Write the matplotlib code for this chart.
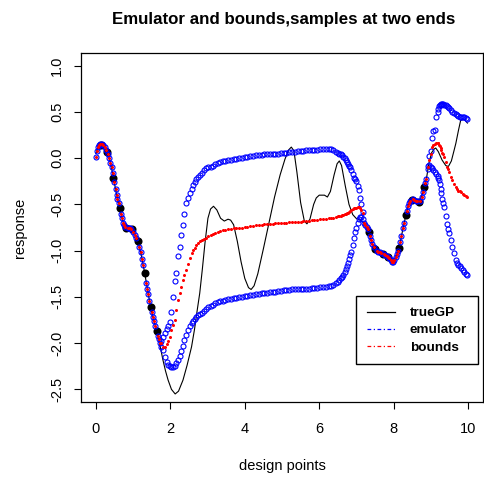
import matplotlib
matplotlib.use("Agg")
import matplotlib.pyplot as plt
from matplotlib.lines import Line2D

plt.rcParams['font.family'] = ['Liberation Sans', 'DejaVu Sans']

# true GP path
true_x = [0.00, 0.05, 0.10, 0.15, 0.22, 0.31, 0.40, 0.47, 0.55, 0.64, 0.72, 0.80, 0.90, 0.98,
          1.05, 1.13, 1.22, 1.31, 1.40, 1.47, 1.55, 1.64, 1.72, 1.80, 1.87, 1.94, 2.03, 2.13,
          2.22, 2.34, 2.45, 2.57, 2.65, 2.72, 2.79, 2.86, 2.93, 3.01, 3.08, 3.16, 3.25, 3.35,
          3.45, 3.55, 3.62, 3.70, 3.80, 3.90, 4.00, 4.10, 4.17, 4.25, 4.35, 4.50, 4.65, 4.80,
          4.95, 5.08, 5.18, 5.25, 5.32, 5.40, 5.50, 5.60, 5.67, 5.75, 5.85, 5.92, 6.00, 6.08,
          6.14, 6.22, 6.30, 6.40, 6.48, 6.54, 6.60, 6.70, 6.80, 6.90, 6.99, 7.10, 7.20, 7.33,
          7.42, 7.51, 7.60, 7.70, 7.80, 7.90, 7.97, 8.05, 8.15, 8.24, 8.33, 8.40, 8.49, 8.58,
          8.69, 8.76, 8.82, 8.88, 8.95, 9.02, 9.09, 9.13, 9.20, 9.30, 9.40, 9.47, 9.55, 9.62,
          9.67, 9.74, 9.80, 9.90, 9.98]
true_y = [0.05, 0.11, 0.14, 0.15, 0.14, 0.07, -0.06, -0.21, -0.38, -0.54, -0.68, -0.74, -0.76, -0.78,
          -0.82, -0.90, -1.05, -1.24, -1.45, -1.61, -1.75, -1.87, -2.02, -2.18, -2.30, -2.40, -2.50, -2.55,
          -2.52, -2.40, -2.24, -2.04, -1.85, -1.65, -1.46, -1.20, -0.92, -0.65, -0.55, -0.52, -0.56, -0.65,
          -0.68, -0.66, -0.67, -0.72, -0.90, -1.12, -1.30, -1.40, -1.42, -1.38, -1.25, -0.98, -0.70, -0.42,
          -0.18, -0.01, 0.09, 0.12, 0.08, -0.15, -0.48, -0.68, -0.71, -0.66, -0.50, -0.43, -0.40, -0.40,
          -0.40, -0.42, -0.36, -0.18, -0.06, -0.03, -0.08, -0.30, -0.50, -0.61, -0.65, -0.67, -0.70, -0.80,
          -0.92, -0.99, -1.02, -1.04, -1.06, -1.09, -1.12, -1.08, -0.97, -0.78, -0.61, -0.50, -0.45, -0.45,
          -0.47, -0.40, -0.31, -0.22, -0.05, 0.06, 0.10, 0.11, 0.07, -0.02, -0.08, -0.09, -0.03, 0.08,
          0.16, 0.30, 0.41, 0.42, 0.38]

# design points at the two ends
design_x = [0.15, 0.31, 0.47, 0.64, 0.82, 0.98, 1.13, 1.31, 1.47, 1.64,
            7.33, 7.51, 7.70, 7.86, 8.15, 8.33, 8.49, 8.69, 8.82]
design_y = [0.14, 0.07, -0.21, -0.54, -0.75, -0.77, -0.90, -1.24, -1.61, -1.87,
            -0.80, -0.98, -1.04, -1.07, -0.97, -0.61, -0.45, -0.47, -0.31]

# emulator where it interpolates the samples (bounds collapse onto the mean)
fit_x = [0.00, 0.03, 0.06, 0.09, 0.12, 0.16, 0.20, 0.24, 0.28, 0.33, 0.36, 0.39, 0.42, 0.45,
         0.50, 0.53, 0.56, 0.58, 0.61, 0.67, 0.70, 0.73, 0.76, 0.79, 0.85, 0.88, 0.92, 0.95,
         1.01, 1.05, 1.08, 1.17, 1.20, 1.24, 1.27, 1.35, 1.38, 1.41, 1.44, 1.50, 1.53, 1.56,
         1.60, 1.67, 1.70, 1.73,
         7.20, 7.24, 7.27, 7.30, 7.36, 7.39, 7.43, 7.46, 7.55, 7.58, 7.63, 7.66, 7.73, 7.76,
         7.82, 7.85, 7.88, 7.92, 7.95, 7.99, 8.02, 8.06, 8.09, 8.12, 8.18, 8.21, 8.25, 8.28,
         8.36, 8.39, 8.42, 8.45, 8.52, 8.55, 8.60, 8.63, 8.72, 8.75, 8.79, 8.85, 8.88]
fit_y = [0.01, 0.08, 0.12, 0.14, 0.15, 0.15, 0.14, 0.12, 0.09, 0.05, 0.00, -0.05, -0.10, -0.16,
         -0.26, -0.33, -0.40, -0.44, -0.49, -0.60, -0.65, -0.70, -0.72, -0.74, -0.75, -0.76, -0.76, -0.77,
         -0.80, -0.83, -0.86, -0.96, -1.02, -1.09, -1.15, -1.35, -1.42, -1.47, -1.54, -1.66, -1.72, -1.76,
         -1.82, -1.92, -1.96, -2.00,
         -0.70, -0.72, -0.74, -0.77, -0.84, -0.88, -0.93, -0.96, -1.00, -1.01, -1.02, -1.03, -1.04, -1.05,
         -1.06, -1.07, -1.08, -1.10, -1.12, -1.12, -1.10, -1.07, -1.04, -1.00, -0.91, -0.84, -0.76, -0.70,
         -0.57, -0.52, -0.48, -0.46, -0.44, -0.45, -0.46, -0.46, -0.46, -0.42, -0.37, -0.27, -0.22]

# emulator away from the samples: upper, mean, lower
gap_x = [1.76, 1.80, 1.85, 1.90, 1.94, 1.98, 2.03, 2.07, 2.12, 2.16, 2.21, 2.25, 2.30, 2.34,
         2.38, 2.43, 2.47, 2.52, 2.57, 2.61, 2.65, 2.70, 2.74, 2.79, 2.84, 2.90, 2.96, 3.02,
         3.08, 3.14, 3.20, 3.27, 3.34, 3.41, 3.48, 3.55, 3.62, 3.70, 3.77, 3.85, 3.92, 4.00,
         4.07, 4.15, 4.22, 4.30, 4.37, 4.45, 4.52, 4.60, 4.67, 4.75, 4.82, 4.90, 4.97, 5.05,
         5.12, 5.20, 5.27, 5.35, 5.42, 5.50, 5.57, 5.65, 5.72, 5.80, 5.87, 5.95, 6.02, 6.10,
         6.17, 6.25, 6.31, 6.38, 6.45, 6.50, 6.54, 6.58, 6.61, 6.65, 6.68, 6.71, 6.74, 6.77,
         6.80, 6.83, 6.86, 6.90, 6.94, 6.97, 6.99, 7.03, 7.06, 7.10, 7.13, 7.17,
         8.92, 8.95, 8.99, 9.03, 9.06, 9.10, 9.14, 9.18, 9.20, 9.22, 9.24, 9.26, 9.28, 9.31,
         9.33, 9.36, 9.40, 9.44, 9.47, 9.49, 9.53, 9.58, 9.62, 9.67, 9.70, 9.74, 9.77, 9.80,
         9.85, 9.89, 9.94, 9.98]
gap_upper = [-1.98, -1.93, -1.89, -1.85, -1.81, -1.77, -1.66, -1.50, -1.33, -1.24, -1.06, -0.96, -0.83, -0.72,
             -0.60, -0.49, -0.43, -0.38, -0.33, -0.29, -0.26, -0.23, -0.20, -0.18, -0.16, -0.13, -0.11, -0.10,
             -0.09, -0.08, -0.06, -0.05, -0.04, -0.03, -0.03, -0.02, -0.02, -0.01, -0.01, 0.00, 0.00, 0.01,
             0.01, 0.02, 0.02, 0.03, 0.03, 0.03, 0.04, 0.04, 0.04, 0.05, 0.05, 0.05, 0.06, 0.06,
             0.06, 0.07, 0.07, 0.07, 0.08, 0.08, 0.08, 0.09, 0.09, 0.09, 0.09, 0.09, 0.10, 0.10,
             0.10, 0.10, 0.10, 0.09, 0.07, 0.06, 0.05, 0.04, 0.03, 0.01, 0.00, -0.02, -0.04, -0.06,
             -0.08, -0.10, -0.13, -0.17, -0.21, -0.23, -0.25, -0.30, -0.34, -0.43, -0.50, -0.58,
             -0.08, 0.02, 0.08, 0.22, 0.29, 0.31, 0.45, 0.50, 0.53, 0.56, 0.57, 0.58, 0.59, 0.59,
             0.59, 0.58, 0.57, 0.56, 0.55, 0.54, 0.52, 0.50, 0.49, 0.48, 0.47, 0.46, 0.45, 0.45,
             0.44, 0.44, 0.43, 0.42]
gap_mid = [-2.00, -2.04, -2.04, -2.01, -1.98, -1.93, -1.86, -1.80, -1.75, -1.64, -1.53, -1.46, -1.39, -1.32,
           -1.26, -1.21, -1.14, -1.08, -1.03, -0.99, -0.97, -0.94, -0.92, -0.90, -0.89, -0.87, -0.86, -0.84,
           -0.83, -0.82, -0.81, -0.80, -0.79, -0.78, -0.78, -0.77, -0.77, -0.76, -0.76, -0.75, -0.75, -0.74,
           -0.74, -0.73, -0.73, -0.72, -0.72, -0.72, -0.71, -0.71, -0.71, -0.71, -0.70, -0.70, -0.70, -0.70,
           -0.70, -0.69, -0.69, -0.69, -0.69, -0.69, -0.68, -0.68, -0.68, -0.67, -0.67, -0.67, -0.66, -0.66,
           -0.66, -0.65, -0.65, -0.65, -0.64, -0.63, -0.62, -0.62, -0.61, -0.61, -0.60, -0.60, -0.59, -0.59,
           -0.58, -0.57, -0.56, -0.55, -0.54, -0.54, -0.54, -0.53, -0.53, -0.54, -0.56, -0.59,
           -0.10, -0.02, 0.05, 0.12, 0.14, 0.15, 0.16, 0.16, 0.16, 0.14, 0.13, 0.11, 0.09, 0.06,
           0.04, 0.01, -0.04, -0.09, -0.12, -0.15, -0.20, -0.24, -0.28, -0.31, -0.33, -0.35, -0.36, -0.37,
           -0.39, -0.40, -0.41, -0.42]
gap_lower = [-2.04, -2.07, -2.15, -2.20, -2.24, -2.25, -2.26, -2.26, -2.25, -2.22, -2.18, -2.14, -2.09, -2.03,
             -1.97, -1.91, -1.86, -1.82, -1.78, -1.76, -1.74, -1.72, -1.70, -1.68, -1.67, -1.65, -1.63, -1.61,
             -1.60, -1.59, -1.57, -1.56, -1.55, -1.54, -1.53, -1.52, -1.52, -1.51, -1.51, -1.50, -1.50, -1.49,
             -1.49, -1.48, -1.48, -1.47, -1.47, -1.46, -1.46, -1.46, -1.45, -1.45, -1.45, -1.44, -1.44, -1.43,
             -1.43, -1.43, -1.42, -1.42, -1.42, -1.42, -1.41, -1.41, -1.41, -1.40, -1.40, -1.40, -1.39, -1.39,
             -1.39, -1.38, -1.38, -1.37, -1.35, -1.34, -1.32, -1.30, -1.28, -1.26, -1.23, -1.20, -1.17, -1.13,
             -1.09, -1.05, -1.01, -0.94, -0.86, -0.80, -0.76, -0.70, -0.66, -0.64, -0.64, -0.66,
             -0.12, -0.07, -0.09, -0.11, -0.13, -0.15, -0.17, -0.19, -0.21, -0.24, -0.28, -0.33, -0.38, -0.44,
             -0.48, -0.53, -0.62, -0.71, -0.77, -0.81, -0.88, -0.96, -1.03, -1.10, -1.13, -1.15, -1.17, -1.19,
             -1.21, -1.23, -1.25, -1.26]

legend_labels = ["trueGP", "emulator", "bounds"]

fig = plt.figure(figsize=(4.85, 4.78), dpi=100)
ax = fig.add_axes([0.1670, 0.1584, 0.8289, 0.7312])

ax.plot(true_x, true_y, color="black", lw=0.8, zorder=1)
ax.plot(design_x, design_y, "o", color="black", ms=5.8, mew=0, zorder=2)

circ = dict(marker="o", ls="none", mfc="none", mec="#0000FF", ms=3.6, mew=0.8, zorder=3)
ax.plot(fit_x, fit_y, **circ)
ax.plot(gap_x, gap_upper, **circ)
ax.plot(gap_x, gap_lower, **circ)

dot = dict(marker="o", ls="none", color="#FF0000", ms=2.2, mew=0, zorder=4)
ax.plot(fit_x, fit_y, **dot)
ax.plot(gap_x, gap_mid, **dot)

ax.set_xlim(-0.4, 10.4)
ax.set_ylim(-2.64, 1.14)
ax.set_xticks([0, 2, 4, 6, 8, 10])
ax.set_yticks([-2.5, -2.0, -1.5, -1.0, -0.5, 0.0, 0.5, 1.0])
ax.set_yticklabels(["-2.5", "-2.0", "-1.5", "-1.0", "-0.5", "0.0", "0.5", "1.0"],
                   rotation=90, va="center")
ax.tick_params(axis="both", labelsize=10.5, length=5, width=0.8)
ax.tick_params(axis="x", pad=9)
ax.tick_params(axis="y", pad=7)
for s in ax.spines.values():
    s.set_linewidth(0.9)

fig.text(0.5856, 0.9582, "Emulator and bounds,samples at two ends",
         ha="center", va="center", fontsize=12.2, fontweight="bold")
fig.text(0.5814, 0.0257, "design points", ha="center", va="center", fontsize=10.5)
fig.text(0.0412, 0.524, "response", ha="center", va="center", rotation=90, fontsize=10.5)

handles = [Line2D([], [], color="black", lw=0.9),
           Line2D([], [], color="#0000FF", lw=0.9, ls=(0, (3, 2, 1, 2))),
           Line2D([], [], color="#FF0000", lw=0.9, ls=(0, (3, 2, 1, 2)))]
leg = ax.legend(handles, legend_labels, loc="upper left", bbox_to_anchor=(0.684, 0.304),
                borderaxespad=0, fancybox=False, framealpha=1, edgecolor="black",
                prop=dict(weight="bold", size=9.7), handlelength=2.1, handletextpad=1.1,
                labelspacing=0.35, borderpad=0.8)
leg.get_frame().set_linewidth(1.0)

fig.savefig("out.png", dpi=100)
